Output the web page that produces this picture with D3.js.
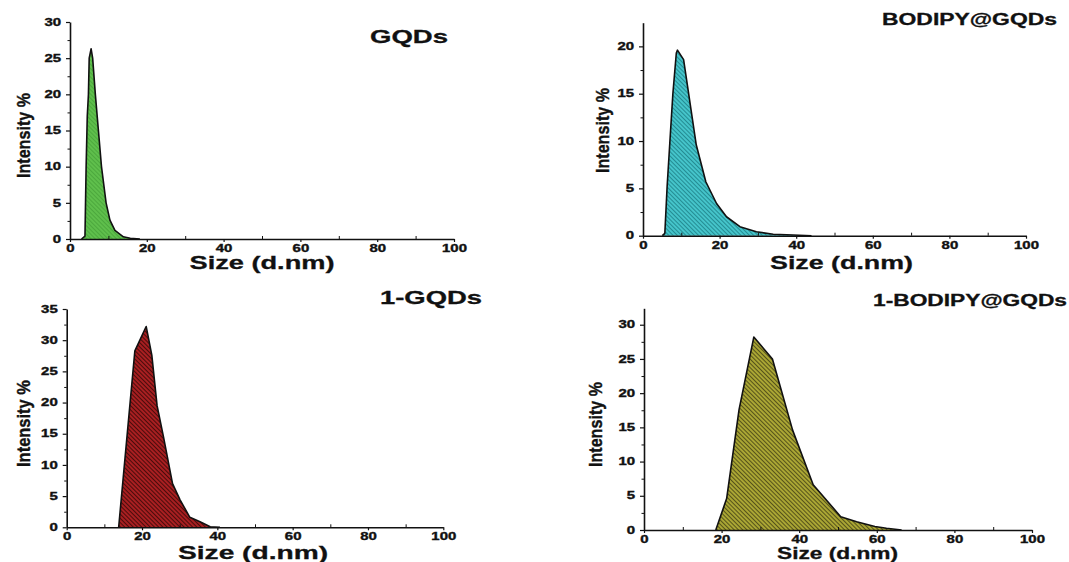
<!DOCTYPE html>
<html>
<head>
<meta charset="utf-8">
<script src="https://cdn.jsdelivr.net/npm/d3@7"></script>
<style>
  html, body { margin: 0; padding: 0; background: #fff; }
  svg { display: block; }
  text { font-family: "Liberation Sans", Arial, sans-serif; font-weight: bold; fill: #111; }
</style>
</head>
<body>
<svg id="chart" width="1069" height="562"></svg>
<script>
// DLS size distributions (intensity %) for the four samples
const gqdsSize        = [3.0, 3.9, 4.2, 4.5, 4.8, 5.0, 5.5, 5.9, 6.6, 7.4, 8.2, 9.4, 10.4, 11.7, 13.9, 15.7, 18.2];
const gqdsIntensity   = [0, 0.4, 10, 17, 20, 25, 26.3, 25, 20, 15, 10, 5, 2.6, 1.2, 0.3, 0.1, 0];

const bodipySize      = [5.05, 5.7, 6.3, 7.0, 7.8, 8.7, 9.0, 10.6, 13.9, 16.4, 19.2, 21.8, 25.3, 29.6, 34, 39.2, 44];
const bodipyIntensity = [0, 0.25, 5.2, 9.8, 15, 19.3, 19.6, 18.6, 9.6, 5.7, 3.4, 2.0, 0.95, 0.42, 0.15, 0.07, 0];

const oneGqdsSize      = [13.8, 18.1, 21.1, 22.6, 24.0, 25.7, 28.1, 30.1, 32.7, 35.4, 38.1, 40.7];
const oneGqdsIntensity = [0, 28.3, 32.2, 27.6, 19.5, 14.5, 7.0, 4.4, 1.6, 0.9, 0.1, 0];

const oneBodipySize      = [18.5, 21.3, 24.5, 28.3, 33.1, 38.3, 43.6, 50.7, 54.8, 59.5, 62.5, 66.4];
const oneBodipyIntensity = [0, 4.6, 17.6, 28.2, 25.0, 14.6, 6.6, 1.95, 1.2, 0.5, 0.25, 0];

const titles    = ["GQDs", "BODIPY@GQDs", "1-GQDs", "1-BODIPY@GQDs"];
const xTicks    = [0, 20, 40, 60, 80, 100];
const yTicksA   = [0, 5, 10, 15, 20, 25, 30];
const yTicksB   = [0, 5, 10, 15, 20];
const yTicksC   = [0, 5, 10, 15, 20, 25, 30, 35];
const yTicksD   = [0, 5, 10, 15, 20, 25, 30];
const xLabel    = "Size (d.nm)";
const yLabel    = "Intensity %";

const svg = d3.select("#chart");
const defs = svg.append("defs");

// diagonal hatch fills
function hatch(id, base, stripe) {
  const p = defs.append("pattern")
    .attr("id", id)
    .attr("patternUnits", "userSpaceOnUse")
    .attr("width", 3).attr("height", 3)
    .attr("patternTransform", "rotate(-45)");
  p.append("rect").attr("width", 3).attr("height", 3).attr("fill", base);
  p.append("rect").attr("width", 1).attr("height", 3).attr("fill", stripe);
}
hatch("h-green", "#5fbf4c", "#4ca83d");
hatch("h-cyan", "#45c4ca", "#248c93");
hatch("h-red", "#a81f21", "#4a0c0c");
hatch("h-olive", "#aaa634", "#56531a");

const panels = [
  { sx: gqdsSize, sy: gqdsIntensity, title: titles[0], fill: "url(#h-green)",
    x0: 70, x1: 454, yT: 22, yB: 239, ymax: 30, yt: yTicksA,
    tx: 409, tb: 43, tf: 19, tw: 78,
    lx: 262, lb: 269, lf: 18.5, lw: 145,
    ylx: 23, yly: 135.5, ylw: 85 },
  { sx: bodipySize, sy: bodipyIntensity, title: titles[1], fill: "url(#h-cyan)",
    x0: 643, x1: 1026, yT: 22.7, yB: 235.7, ymax: 22.5, yt: yTicksB,
    tx: 969.5, tb: 25, tf: 16, tw: 175,
    lx: 841.5, lb: 269, lf: 18.5, lw: 143,
    ylx: 602, yly: 130.5, ylw: 85 },
  { sx: oneGqdsSize, sy: oneGqdsIntensity, title: titles[2], fill: "url(#h-red)",
    x0: 66.7, x1: 443.3, yT: 309, yB: 527.3, ymax: 35, yt: yTicksC,
    tx: 431, tb: 304, tf: 18, tw: 102,
    lx: 253, lb: 559, lf: 18.5, lw: 150,
    ylx: 23, yly: 423.5, ylw: 87 },
  { sx: oneBodipySize, sy: oneBodipyIntensity, title: titles[3], fill: "url(#h-olive)",
    x0: 644, x1: 1032, yT: 308.3, yB: 530, ymax: 32.4, yt: yTicksD,
    tx: 970, tb: 306, tf: 16, tw: 194,
    lx: 837.5, lb: 559, lf: 16, lw: 121,
    ylx: 595, yly: 424.5, ylw: 85 }
];

panels.forEach(p => {
  const x = d3.scaleLinear().domain([0, 100]).range([p.x0, p.x1]);
  const y = d3.scaleLinear().domain([0, p.ymax]).range([p.yB, p.yT]);
  const g = svg.append("g");
  const pts = p.sx.map((s, i) => [s, p.sy[i]]);

  // filled distribution
  g.append("path")
    .datum(pts)
    .attr("fill", p.fill)
    .attr("d", d3.area().x(d => x(d[0])).y0(y(0)).y1(d => y(d[1])));
  g.append("path")
    .datum(pts)
    .attr("fill", "none")
    .attr("stroke", "#111")
    .attr("stroke-width", 1.6)
    .attr("stroke-linejoin", "round")
    .attr("d", d3.line().x(d => x(d[0])).y(d => y(d[1])));

  // minor ticks
  const yMinor = d3.range(2.5, p.ymax, 5);
  g.append("g").attr("transform", `translate(${p.x0},0)`)
    .call(d3.axisLeft(y).tickValues(yMinor).tickSize(2.5).tickFormat("").tickSizeOuter(0))
    .call(a => a.select(".domain").remove());
  g.append("g").attr("transform", `translate(0,${p.yB})`)
    .call(d3.axisTop(x).tickValues(d3.range(10, 100, 20)).tickSize(3).tickFormat("").tickSizeOuter(0))
    .call(a => a.select(".domain").remove());

  // major axes
  const ya = g.append("g").attr("transform", `translate(${p.x0},0)`)
    .call(d3.axisLeft(y).tickValues(p.yt).tickSize(4).tickPadding(5).tickSizeOuter(0));
  const xa = g.append("g").attr("transform", `translate(0,${p.yB})`)
    .call(d3.axisBottom(x).tickValues(xTicks).tickSize(3).tickPadding(3).tickSizeOuter(0));

  [ya, xa].forEach(a => {
    a.select(".domain").attr("stroke", "#111").attr("stroke-width", 1.6);
    a.selectAll(".tick line").attr("stroke", "#111").attr("stroke-width", 1.2);
    a.selectAll(".tick text")
      .style("font-family", "'Liberation Sans', Arial, sans-serif")
      .style("font-weight", "bold")
      .style("font-size", "10px")
      .attr("fill", "#111")
      .attr("stroke", "#111")
      .attr("stroke-width", 0.35)
      .attr("textLength", function () { return this.textContent.length * 8.3; })
      .attr("lengthAdjust", "spacingAndGlyphs");
  });
  g.selectAll(".tick line").attr("stroke", "#111");

  // title
  g.append("text")
    .attr("x", p.tx).attr("y", p.tb)
    .attr("text-anchor", "middle")
    .style("font-size", p.tf + "px")
    .attr("stroke", "#111").attr("stroke-width", 0.3)
    .attr("textLength", p.tw).attr("lengthAdjust", "spacingAndGlyphs")
    .text(p.title);

  // axis titles
  g.append("text")
    .attr("x", p.lx).attr("y", p.lb)
    .attr("text-anchor", "middle")
    .style("font-size", p.lf + "px")
    .attr("stroke", "#111").attr("stroke-width", 0.3)
    .attr("textLength", p.lw).attr("lengthAdjust", "spacingAndGlyphs")
    .text(xLabel);
  g.append("text")
    .attr("transform", `translate(${p.ylx + 7},${p.yly}) rotate(-90)`)
    .attr("text-anchor", "middle")
    .style("font-size", "19px")
    .attr("stroke", "#111").attr("stroke-width", 0.4)
    .attr("textLength", p.ylw).attr("lengthAdjust", "spacingAndGlyphs")
    .text(yLabel);
});
</script>
</body>
</html>
